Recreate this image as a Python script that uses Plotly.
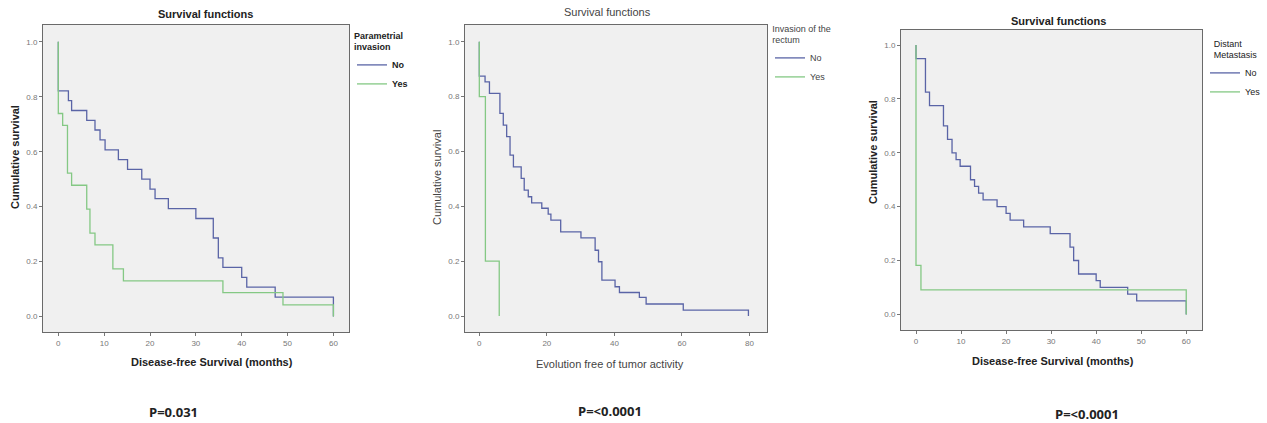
import plotly.graph_objects as go

# ---- data ----
p1_no_t = [0, 0, 2.2, 2.9, 6.2, 8, 9.1, 10.2, 13.1, 15.1, 18.2, 20, 21.1, 24, 30, 33.8, 34.9, 35.9, 40, 41.1, 47.3, 60]
p1_no_s = [1, 0.821, 0.786, 0.75, 0.714, 0.679, 0.643, 0.607, 0.571, 0.536, 0.5, 0.464, 0.429, 0.393, 0.357, 0.286, 0.214, 0.179, 0.143, 0.107, 0.071, 0.0]
p1_yes_t = [0, 0, 0.95, 2, 2.9, 6.2, 6.9, 8, 11.9, 14.2, 35.9, 49, 60]
p1_yes_s = [1, 0.739, 0.696, 0.522, 0.478, 0.391, 0.304, 0.261, 0.174, 0.130, 0.087, 0.043, 0.0]

p2_no_t = [0, 0, 1.7, 3.0, 6.1, 7.1, 8.1, 9.1, 10.1, 12.4, 13.3, 14.5, 15.5, 18.5, 20.4, 21.2, 24.1, 30.1, 34.3, 35.3, 36.3, 40.2, 41.5, 47.4, 49.4, 60.4, 79.7]
p2_no_s = [1, 0.875, 0.854, 0.812, 0.739, 0.696, 0.654, 0.587, 0.544, 0.502, 0.459, 0.435, 0.413, 0.393, 0.372, 0.35, 0.307, 0.285, 0.24, 0.198, 0.131, 0.107, 0.086, 0.068, 0.044, 0.022, 0.0]
p2_yes_t = [0, 0, 1.8, 5.9]
p2_yes_s = [1, 0.8, 0.2, 0.0]

p3_no_t = [0, 0, 2.1, 3, 6.1, 7, 8, 8.9, 9.8, 12.1, 13, 13.9, 14.9, 18, 20, 20.9, 23.9, 29.8, 34.2, 35, 36.1, 40, 40.9, 47, 49, 60]
p3_no_s = [1, 0.95, 0.825, 0.775, 0.70, 0.65, 0.60, 0.575, 0.55, 0.50, 0.475, 0.45, 0.425, 0.40, 0.375, 0.35, 0.325, 0.30, 0.25, 0.20, 0.15, 0.125, 0.10, 0.075, 0.05, 0.0]
p3_yes_t = [0, 0, 1.1, 60]
p3_yes_s = [1, 0.182, 0.091, 0.0]

y_ticks = [0.0, 0.2, 0.4, 0.6, 0.8, 1.0]
x_ticks_1 = [0, 10, 20, 30, 40, 50, 60]
x_ticks_2 = [0, 20, 40, 60, 80]
x_ticks_3 = [0, 10, 20, 30, 40, 50, 60]

titles = ["Survival functions", "Survival functions", "Survival functions"]
legend_titles = ["Parametrial<br>invasion", "Invasion of the<br>rectum", "Distant<br>Metastasis"]
x_titles = ["Disease-free Survival (months)", "Evolution free of tumor activity", "Disease-free Survival (months)"]
y_title = "Cumulative survival"
p_values = ["P=0.031", "P=<0.0001", "P=<0.0001"]
group_labels = ["No", "Yes"]

# ---- layout geometry (pixels) ----
W, H = 1267, 423
BLUE = "#5a64a6"
GREEN = "#84c884"
FONT = "Liberation Sans, Arial, sans-serif"

def px(x):
    return x / W

def py(y):
    return 1 - y / H

panels = [
    dict(l=43, r=349, t=25, b=332, xr=[-3.34, 63.4], yr=[-0.056, 1.061], xt=x_ticks_1, bold=True, legbold=True,
         data=[(p1_no_t, p1_no_s), (p1_yes_t, p1_yes_s)],
         title_xy=(205, 14), ytitle_x=15, ytitle_y=157, xtitle_xy=(212, 362), p_xy=(173, 412),
         leg=(352, 27), leg_side="top"),
    dict(l=465, r=767, t=25, b=332, xr=[-4.24, 85.2], yr=[-0.058, 1.061], xt=x_ticks_2, bold=False, legbold=False,
         data=[(p2_no_t, p2_no_s), (p2_yes_t, p2_yes_s)],
         title_xy=(607, 12), ytitle_x=437, ytitle_y=178, xtitle_xy=(610, 364), p_xy=(610, 411),
         leg=(770, 20), leg_side="top center"),
    dict(l=901, r=1202, t=30, b=330, xr=[-3.33, 63.5], yr=[-0.058, 1.056], xt=x_ticks_3, bold=True, legbold=False,
         data=[(p3_no_t, p3_no_s), (p3_yes_t, p3_yes_s)],
         title_xy=(1058, 21), ytitle_x=873, ytitle_y=152, xtitle_xy=(1053, 361), p_xy=(1087, 414),
         leg=(1205, 35), leg_side="top center"),
]

fig = go.Figure()
annotations = []
layout = {}
for i, p in enumerate(panels):
    n = i + 1
    xa = "x" if n == 1 else f"x{n}"
    ya = "y" if n == 1 else f"y{n}"
    lg = "legend" if n == 1 else f"legend{n}"
    for (t, s), name, col in zip(p["data"], group_labels, [BLUE, GREEN]):
        fig.add_trace(go.Scatter(x=t, y=s, mode="lines", line=dict(color=col, width=1.3, shape="hv"),
                                 name=name, xaxis=xa, yaxis=ya, legend=lg, hoverinfo="x+y"))
    axis_common = dict(showgrid=False, zeroline=False, showline=True, linecolor="#6a6a6a", linewidth=1,
                       mirror=True, ticks="outside", ticklen=3, tickcolor="#777",
                       tickfont=dict(size=8, color="#777", family=FONT))
    layout[f"xaxis{'' if n == 1 else n}"] = dict(domain=[px(p["l"]), px(p["r"])], range=p["xr"],
                                                 tickvals=p["xt"], anchor=ya, **axis_common)
    layout[f"yaxis{'' if n == 1 else n}"] = dict(domain=[py(p["b"]), py(p["t"])], range=p["yr"],
                                                 tickvals=y_ticks, tickformat=".1f", anchor=xa, **axis_common)
    wt = "bold" if p["bold"] else "normal"
    lwt = "bold" if p["legbold"] else "normal"
    tcol = "#222" if p["bold"] else "#444"
    common = dict(xref="paper", yref="paper", showarrow=False, xanchor="center", yanchor="middle")
    annotations += [
        dict(text=titles[i], x=px(p["title_xy"][0]), y=py(p["title_xy"][1]),
             font=dict(size=11, color=tcol, family=FONT, weight=wt), **common),
        dict(text=y_title, x=px(p["ytitle_x"]), y=py(p["ytitle_y"]), textangle=-90,
             font=dict(size=11, color=tcol, family=FONT, weight=wt), **common),
        dict(text=x_titles[i], x=px(p["xtitle_xy"][0]), y=py(p["xtitle_xy"][1]),
             font=dict(size=11, color=tcol, family=FONT, weight=wt), **common),
        dict(text=p_values[i], x=px(p["p_xy"][0]), y=py(p["p_xy"][1]),
             font=dict(size=13, color="#222", family="Open Sans, sans-serif", weight="bold"), **common),
    ]
    layout[lg] = dict(x=px(p["leg"][0]), y=py(p["leg"][1]), xanchor="left", yanchor="top",
                      bgcolor="rgba(0,0,0,0)", borderwidth=0, itemwidth=30,
                      tracegroupgap=0,
                      title=dict(text=legend_titles[i], side=p["leg_side"],
                                 font=dict(size=9, color=tcol, family=FONT, weight=lwt)),
                      font=dict(size=9, color=tcol, family=FONT, weight=lwt))

fig.update_layout(width=W, height=H, margin=dict(l=0, r=0, t=0, b=0), paper_bgcolor="white",
                  plot_bgcolor="#f0f0f0", showlegend=True, annotations=annotations, **layout)
fig.write_html("out.html")
